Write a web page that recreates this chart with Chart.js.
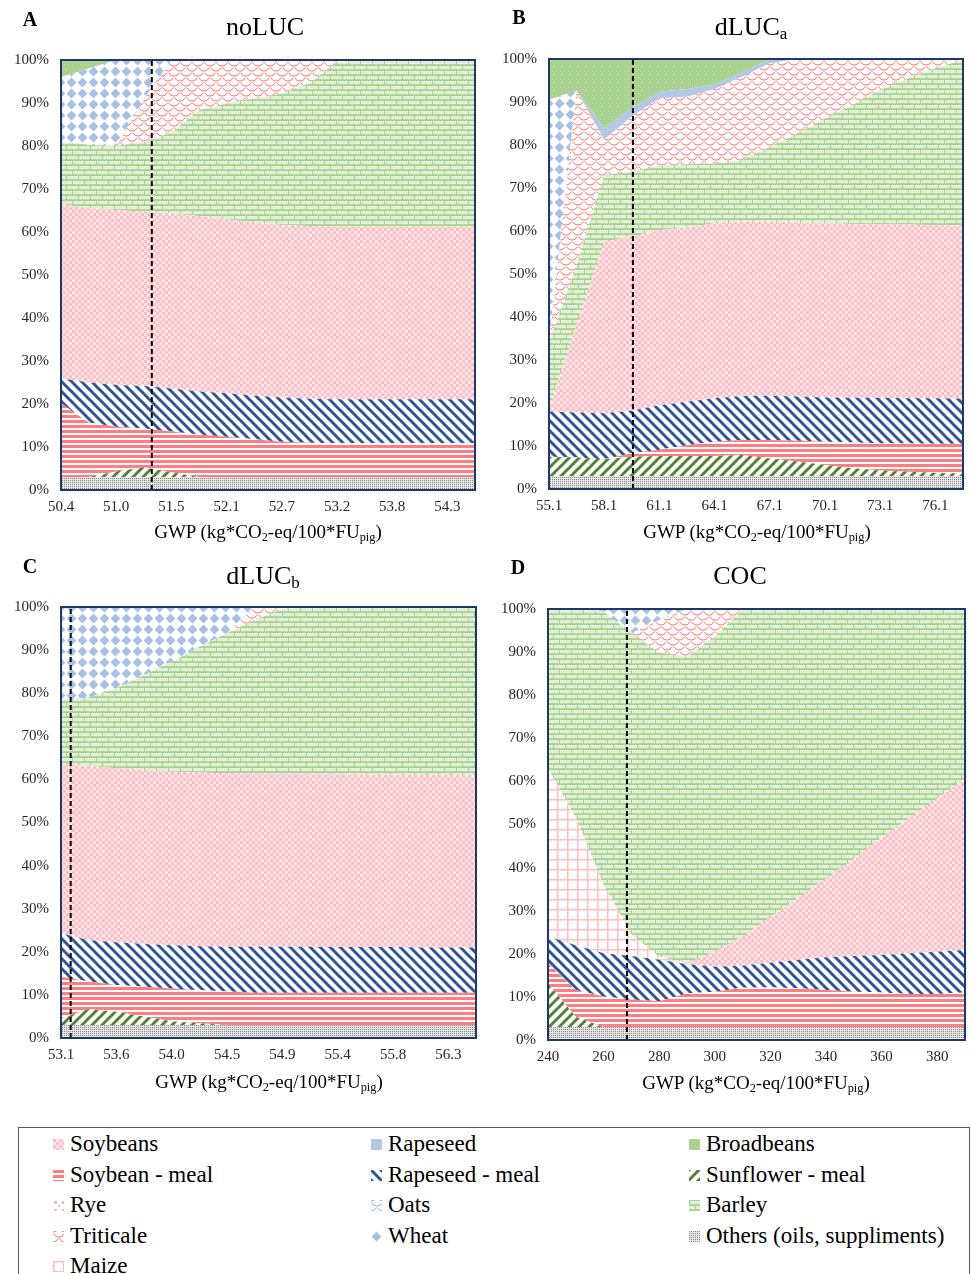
<!DOCTYPE html>
<html>
<head>
<meta charset="utf-8">
<script src="https://cdn.jsdelivr.net/npm/chart.js@4.4.0/dist/chart.umd.min.js"></script>
<style>
  body { margin: 0; background: #fff; }
  #page { position: relative; width: 972px; height: 1274px; overflow: hidden; font-family: 'Liberation Serif', 'Times New Roman', serif; color: #000; }
  canvas.panel { position: absolute; }
  .txt { position: absolute; transform: translate(-50%, -50%); white-space: nowrap; }
  .letter { font-weight: bold; font-size: 20px; }
  .title { font-size: 26px; }
  .axis { font-size: 19px; }
  sub { font-size: 65%; vertical-align: -0.25em; line-height: 0; }
  #legend { position: absolute; left: 18px; top: 1127px; width: 952px; height: 170px; border: 1px solid #595959; box-sizing: border-box; }
  .item { position: absolute; font-size: 23px; line-height: 26px; white-space: nowrap; }
  .item canvas { position: absolute; left: -17px; top: 8px; }
</style>
</head>
<body>
<div id="page">
  <canvas class="panel" id="chartA"></canvas>
  <canvas class="panel" id="chartB"></canvas>
  <canvas class="panel" id="chartC"></canvas>
  <canvas class="panel" id="chartD"></canvas>

  <div class="txt letter" style="left:30px; top:19px;">A</div>
  <div class="txt letter" style="left:519px; top:17px;">B</div>
  <div class="txt letter" style="left:30px; top:566px;">C</div>
  <div class="txt letter" style="left:518px; top:567px;">D</div>

  <div class="txt title" style="left:265px; top:27px;">noLUC</div>
  <div class="txt title" style="left:751px; top:27px;">dLUC<sub>a</sub></div>
  <div class="txt title" style="left:263px; top:576px;">dLUC<sub>b</sub></div>
  <div class="txt title" style="left:740px; top:576px;">COC</div>

  <div class="txt axis" style="left:268px; top:532px;">GWP (kg*CO<sub>2</sub>-eq/100*FU<sub>pig</sub>)</div>
  <div class="txt axis" style="left:757px; top:532px;">GWP (kg*CO<sub>2</sub>-eq/100*FU<sub>pig</sub>)</div>
  <div class="txt axis" style="left:269px; top:1082px;">GWP (kg*CO<sub>2</sub>-eq/100*FU<sub>pig</sub>)</div>
  <div class="txt axis" style="left:756px; top:1083px;">GWP (kg*CO<sub>2</sub>-eq/100*FU<sub>pig</sub>)</div>

  <div id="legend"></div>
</div>
<script>
// ---- data: feed shares (%) along the GWP axis, 16 points per scenario ----
const gwpA = ['50.4','50.7','51.0','51.2','51.5','51.8','52.1','52.4','52.7','52.9','53.2','53.5','53.8','54.0','54.3','54.6'];
const othersA        = [3,3,3,3,3,3,3,3,3,3,3,3,3,3,3,3];
const sunflowerMealA = [0,0,1.3,2.3,1.1,0,0,0,0,0,0,0,0,0,0,0];
const soybeanMealA   = [17.2,12.7,10.4,9.0,9.5,9.9,9.4,8.8,8.2,8.0,7.9,7.9,7.9,7.9,7.9,7.9];
const rapeseedMealA  = [5.8,9.3,9.7,9.9,10.0,10.0,10.1,10.1,10.3,10.2,10.2,10.2,10.2,10.2,10.2,10.2];
const soybeansA      = [40.5,40.5,40.7,40.5,40.7,40.8,40.4,40.3,40.1,40.2,40.1,40.1,40.1,40.1,40.1,40.1];
const barleyA        = [14.5,14.8,14.9,16.3,18.7,24.7,27.0,28.9,30.6,33.2,38.3,38.8,38.8,38.8,38.8,38.8];
const triticaleA     = [0,0,0,9.8,17.0,11.6,10.1,8.9,7.8,5.4,0.5,0,0,0,0,0];
const wheatA         = [15.0,17.7,20.0,9.2,0,0,0,0,0,0,0,0,0,0,0,0];
const broadbeansA    = [4.0,2.0,0,0,0,0,0,0,0,0,0,0,0,0,0,0];
const markerA = 3.29;

const gwpB = ['55.1','56.6','58.1','59.6','61.1','62.6','64.1','65.6','67.1','68.6','70.1','71.6','73.1','74.6','76.1','77.6'];
const othersB        = [3,3,3,3,3,3,3,3,3,3,3,3,3,3,3,3];
const sunflowerMealB = [4.5,4.3,3.9,4.5,4.7,4.7,4.7,4.9,4.1,3.4,2.6,1.8,1.3,1.0,0.8,0.6];
const soybeanMealB   = [0,0,0,0.8,1.4,2.5,3.3,3.5,4.3,4.8,5.4,6.0,6.3,6.6,6.7,6.9];
const rapeseedMealB  = [10.5,10.5,10.7,9.9,10.4,10.1,10.1,10.2,10.3,10.3,10.3,10.4,10.6,10.5,10.6,10.5];
const soybeansB      = [0.8,20.2,39.9,40.5,40.7,40.5,40.7,40.6,40.5,40.4,40.5,40.4,40.3,40.4,40.3,40.2];
const barleyB        = [15.2,14.0,15.5,15.1,15.0,14.7,13.9,14.3,17.4,20.8,24.4,27.7,31.3,34.0,36.4,38.6];
const triticaleB     = [0,40.6,8.2,12.8,15.7,15.7,17.3,19.4,19.4,17.3,13.8,10.7,7.2,4.5,2.2,0.2];
const wheatB         = [56.5,0,0,0,0,0,0,0,0,0,0,0,0,0,0,0];
const rapeseedB      = [0,0,2.7,2.0,1.5,1.8,1.0,1.0,0.8,0,0,0,0,0,0,0];
const broadbeansB    = [9.5,7.4,16.1,11.4,7.6,7.0,6.0,3.1,0.2,0,0,0,0,0,0,0];
const markerB = 3.04;

const gwpC = ['53.1','53.3','53.6','53.8','54.0','54.3','54.5','54.7','54.9','55.2','55.4','55.6','55.8','56.1','56.3','56.5'];
const othersC        = [3,3,3,3,3,3,3,3,3,3,3,3,3,3,3,3];
const sunflowerMealC = [1.5,3.7,3.1,2.0,0.9,0.4,0,0,0,0,0,0,0,0,0,0];
const soybeanMealC   = [9.7,6.4,6.2,6.9,7.6,7.7,7.8,7.5,7.5,7.5,7.5,7.5,7.5,7.5,7.5,7.5];
const rapeseedMealC  = [10.1,9.6,9.9,9.9,10.0,10.2,10.4,10.7,10.7,10.7,10.6,10.6,10.6,10.5,10.5,10.5];
const soybeansC      = [39.4,40.4,40.4,40.4,40.3,40.3,40.2,40.1,40.1,40.0,40.1,40.0,40.0,40.0,40.0,40.0];
const barleyC        = [14.7,15.9,18.5,22.0,25.5,29.2,32.5,35.7,38.2,38.8,38.8,38.9,38.9,39.0,39.0,39.0];
const triticaleC     = [0,0,0,0,0,0,0,3.0,0.5,0,0,0,0,0,0,0];
const wheatC         = [21.6,21.0,18.9,15.8,12.7,9.2,6.1,0,0,0,0,0,0,0,0,0];
const markerC = 0.35;

const gwpD = ['240','250','260','270','280','290','300','310','320','330','340','350','360','370','380','390'];
const othersD        = [3,3,3,3,3,3,3,3,3,3,3,3,3,3,3,3];
const sunflowerMealD = [10.1,2.4,0,0,0,0,0,0,0,0,0,0,0,0,0,0];
const soybeanMealD   = [4.7,6.2,7.1,6.4,6.0,7.8,8.2,9.1,9.2,9.0,8.6,8.2,8.0,7.7,7.7,8.0];
const rapeseedMealD  = [6.2,10.4,10.0,10.1,9.6,6.8,5.8,5.1,5.7,6.6,7.6,8.3,8.7,9.4,9.8,9.9];
const soybeansD      = [0,0,0,0,0,0.2,3.5,6.8,10.6,14.4,18.3,22.5,27.3,31.4,35.5,39.9];
const maizeD         = [39.0,29.5,15.9,5.0,0.7,0,0,0,0,0,0,0,0,0,0,0];
const barleyD        = [37.0,48.5,63.4,69.9,70.6,71.1,73.1,75.8,71.5,67.0,62.5,58.0,53.0,48.5,44.0,39.2];
const triticaleD     = [0,0,0,0,7.5,11.1,6.4,0.2,0,0,0,0,0,0,0,0];
const wheatD         = [0,0,0.6,5.6,2.6,0,0,0,0,0,0,0,0,0,0,0];
const markerD = 2.84;

// bottom to top
const stackOrder = ['Others (oils, suppliments)', 'Sunflower - meal', 'Soybean - meal', 'Rapeseed - meal',
  'Soybeans', 'Maize', 'Barley', 'Rye', 'Triticale', 'Wheat', 'Oats', 'Rapeseed', 'Broadbeans'];
const legendOrder = ['Soybeans', 'Rapeseed', 'Broadbeans', 'Soybean - meal', 'Rapeseed - meal', 'Sunflower - meal',
  'Rye', 'Oats', 'Barley', 'Triticale', 'Wheat', 'Others (oils, suppliments)', 'Maize'];

// ---- fill patterns ----
function tile(w, h, draw) {
  const c = document.createElement('canvas');
  c.width = w; c.height = h;
  const g = c.getContext('2d');
  draw(g, w, h);
  return c;
}
function stripes(g, s, color, width, down) {
  g.fillStyle = '#fff'; g.fillRect(0, 0, s, s);
  g.strokeStyle = color; g.lineWidth = width; g.lineCap = 'square';
  for (let k = -1; k <= 1; k++) {
    g.beginPath();
    if (down) { g.moveTo(k * s, 0); g.lineTo(k * s + s, s); }
    else { g.moveTo(k * s, s); g.lineTo(k * s + s, 0); }
    g.stroke();
  }
}
function scallop(g, color) {
  g.fillStyle = '#fff'; g.fillRect(0, 0, 12, 10);
  g.strokeStyle = color; g.lineWidth = 1;
  [[6, 0], [0, 5], [12, 5], [6, 10], [0, -5], [12, -5]].forEach(([cx, cy]) => {
    g.beginPath(); g.arc(cx, cy, 6, 0.15 * Math.PI, 0.85 * Math.PI); g.stroke();
  });
}
const tiles = {
  'Others (oils, suppliments)': tile(2, 2, g => {
    g.fillStyle = '#e4e4e4'; g.fillRect(0, 0, 2, 2);
    g.fillStyle = '#8a8a8a'; g.fillRect(0, 0, 1, 1);
  }),
  'Sunflower - meal': tile(10, 10, g => stripes(g, 10, '#548235', 3, false)),
  'Soybean - meal': tile(5, 5, g => {
    g.fillStyle = '#fff'; g.fillRect(0, 0, 5, 5);
    g.fillStyle = '#ff7c80'; g.fillRect(0, 0, 5, 3);
  }),
  'Rapeseed - meal': tile(10, 10, g => stripes(g, 10, '#2f5597', 3, true)),
  'Soybeans': tile(6, 6, g => {
    g.fillStyle = '#ffe6e9'; g.fillRect(0, 0, 6, 6);
    g.fillStyle = '#ffbcc4'; g.fillRect(0, 0, 3, 3); g.fillRect(3, 3, 3, 3);
  }),
  'Maize': tile(10, 10, g => {
    g.fillStyle = '#fff'; g.fillRect(0, 0, 10, 10);
    g.fillStyle = '#ffbcc3'; g.fillRect(0, 0, 10, 1.5); g.fillRect(0, 0, 1.5, 10);
  }),
  'Barley': tile(12, 10, g => {
    g.fillStyle = '#a9d18e'; g.fillRect(0, 0, 12, 10);
    g.fillStyle = '#e2efd9';
    g.fillRect(1, 1, 11, 3.2);
    g.fillRect(7, 6, 5, 3.2); g.fillRect(0, 6, 6, 3.2);
  }),
  'Rye': tile(8, 8, g => {
    g.fillStyle = '#fff'; g.fillRect(0, 0, 8, 8);
    g.fillStyle = '#ffb3ba'; g.fillRect(1, 1, 3, 3); g.fillRect(5, 5, 2, 2);
  }),
  'Triticale': tile(12, 10, g => scallop(g, '#ff6b6b')),
  'Wheat': tile(11, 11, g => {
    g.fillStyle = '#fff'; g.fillRect(0, 0, 11, 11);
    g.fillStyle = '#a9c0e6';
    g.beginPath(); g.moveTo(5.5, 0.6); g.lineTo(10.4, 5.5); g.lineTo(5.5, 10.4); g.lineTo(0.6, 5.5); g.closePath(); g.fill();
  }),
  'Oats': tile(12, 10, g => scallop(g, '#8faadc')),
  'Rapeseed': tile(2, 2, g => { g.fillStyle = '#b4c7e7'; g.fillRect(0, 0, 2, 2); }),
  'Broadbeans': tile(4, 4, g => {
    g.fillStyle = '#a9d18e'; g.fillRect(0, 0, 4, 4);
    g.fillStyle = '#bedcaa'; g.fillRect(0, 0, 1, 1); g.fillRect(2, 2, 1, 1);
  })
};
const pctx = document.createElement('canvas').getContext('2d');
const patterns = {};
for (const name in tiles) patterns[name] = pctx.createPattern(tiles[name], 'repeat');

// ---- panels ----
const panels = [
  { id: 'chartA', left: 61, top: 60, w: 414, h: 430, gwp: gwpA, marker: markerA,
    series: { 'Others (oils, suppliments)': othersA, 'Sunflower - meal': sunflowerMealA, 'Soybean - meal': soybeanMealA,
      'Rapeseed - meal': rapeseedMealA, 'Soybeans': soybeansA, 'Barley': barleyA, 'Triticale': triticaleA,
      'Wheat': wheatA, 'Broadbeans': broadbeansA } },
  { id: 'chartB', left: 549, top: 59, w: 414, h: 430, gwp: gwpB, marker: markerB,
    series: { 'Others (oils, suppliments)': othersB, 'Sunflower - meal': sunflowerMealB, 'Soybean - meal': soybeanMealB,
      'Rapeseed - meal': rapeseedMealB, 'Soybeans': soybeansB, 'Barley': barleyB, 'Triticale': triticaleB,
      'Wheat': wheatB, 'Rapeseed': rapeseedB, 'Broadbeans': broadbeansB } },
  { id: 'chartC', left: 61, top: 607, w: 415, h: 431, gwp: gwpC, marker: markerC,
    series: { 'Others (oils, suppliments)': othersC, 'Sunflower - meal': sunflowerMealC, 'Soybean - meal': soybeanMealC,
      'Rapeseed - meal': rapeseedMealC, 'Soybeans': soybeansC, 'Barley': barleyC, 'Triticale': triticaleC,
      'Wheat': wheatC } },
  { id: 'chartD', left: 548, top: 609, w: 417, h: 431, gwp: gwpD, marker: markerD,
    series: { 'Others (oils, suppliments)': othersD, 'Sunflower - meal': sunflowerMealD, 'Soybean - meal': soybeanMealD,
      'Rapeseed - meal': rapeseedMealD, 'Soybeans': soybeansD, 'Maize': maizeD, 'Barley': barleyD,
      'Triticale': triticaleD, 'Wheat': wheatD } }
];

const tickFont = { family: "'Liberation Serif', 'Times New Roman', serif", size: 15 };

// dark frame round the plot area
const frame = {
  id: 'frame',
  afterDatasetsDraw(chart) {
    const { ctx, chartArea: a } = chart;
    ctx.save();
    ctx.strokeStyle = '#203864';
    ctx.lineWidth = 2;
    ctx.strokeRect(a.left, a.top, a.right - a.left, a.bottom - a.top);
    ctx.restore();
  }
};

panels.forEach(p => {
  const canvas = document.getElementById(p.id);
  canvas.width = p.w + 71;
  canvas.height = p.h + 120;
  canvas.style.left = (p.left - 61) + 'px';
  canvas.style.top = (p.top - 60) + 'px';

  const datasets = stackOrder.filter(name => p.series[name]).map((name, k) => ({
    label: name,
    data: p.series[name],
    backgroundColor: patterns[name],
    borderWidth: 0,
    pointRadius: 0,
    tension: 0,
    fill: k === 0 ? 'origin' : '-1',
    order: 1
  }));
  datasets.push({
    label: 'marker',
    data: [{ x: p.marker, y: 0 }, { x: p.marker, y: 100 }],
    xAxisID: 'xm',
    yAxisID: 'ym',
    borderColor: '#000',
    borderWidth: 2,
    borderDash: [5, 3],
    pointRadius: 0,
    fill: false,
    order: 0
  });

  new Chart(canvas, {
    type: 'line',
    data: { labels: p.gwp, datasets },
    options: {
      responsive: false,
      animation: false,
      layout: { padding: { top: 60, right: 10, bottom: 0, left: 0 } },
      plugins: { legend: { display: false }, tooltip: { enabled: false } },
      scales: {
        x: {
          type: 'category',
          grid: { display: false, drawTicks: false },
          border: { display: false },
          ticks: {
            autoSkip: false, maxRotation: 0, padding: 8, color: '#262626', font: tickFont,
            callback(v, i) { return i % 2 === 0 ? this.getLabelForValue(v) : ''; }
          },
          afterFit(s) { s.height = 60; }
        },
        y: {
          stacked: true, min: 0, max: 100,
          grid: { display: false, drawTicks: false },
          border: { display: false },
          ticks: { stepSize: 10, padding: 12, color: '#262626', font: tickFont, callback: v => v + '%' },
          afterFit(s) { s.width = 61; }
        },
        xm: { type: 'linear', min: 0, max: 15, display: false },
        ym: { type: 'linear', min: 0, max: 100, display: false }
      }
    },
    plugins: [frame]
  });
});

// ---- legend ----
const legend = document.getElementById('legend');
const colX = [69, 387, 705];
const rowY = [1130, 1160.5, 1191, 1221.5, 1252];
legendOrder.forEach((name, i) => {
  const item = document.createElement('div');
  item.className = 'item';
  item.style.left = (colX[i % 3] - 18) + 'px';
  item.style.top = (rowY[Math.floor(i / 3)] - 1127) + 'px';
  const icon = document.createElement('canvas');
  icon.width = 11; icon.height = 11;
  const g = icon.getContext('2d');
  g.fillStyle = patterns[name];
  g.fillRect(0, 0, 11, 11);
  item.appendChild(icon);
  item.appendChild(document.createTextNode(name));
  legend.appendChild(item);
});
</script>
</body>
</html>
